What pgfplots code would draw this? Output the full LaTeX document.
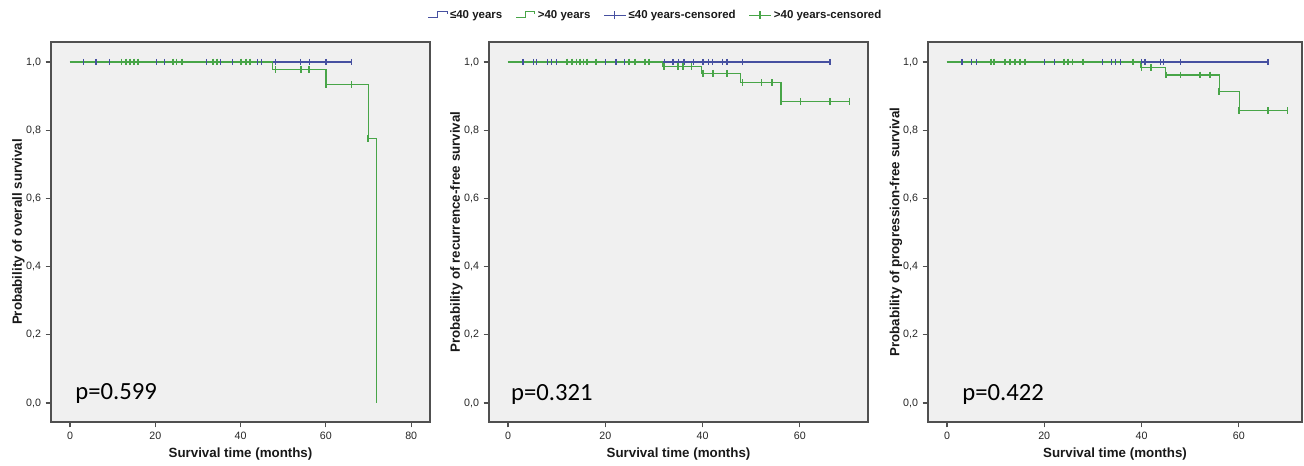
\documentclass[border=0pt]{standalone}
\usepackage{pgfplots}
\pgfplotsset{compat=1.18}
\usepackage{fontspec}
\setmainfont{Liberation Sans}
\newfontfamily\pfont{Carlito}
\definecolor{kmblue}{RGB}{70,80,160}
\definecolor{kmgreen}{RGB}{72,165,72}
\definecolor{bgc}{RGB}{240,240,240}
\definecolor{framec}{RGB}{80,80,80}

\pgfplotsset{
  kmaxis/.style={
    scale only axis, height=285pt,
    ymin=-0.0557, ymax=1.0587,
    ytick={0,0.2,0.4,0.6,0.8,1},
    axis background/.style={fill=bgc},
    axis line style={framec, line width=1.1pt},
    tick style={framec, line width=0.8pt},
    tick align=outside, tick pos=left, major tick length=4pt,
    ticklabel style={font=\fontsize{8}{9}\selectfont, text=black!85},
    /pgf/number format/assume math mode=true,
    y tick label style={/pgf/number format/.cd, fixed, fixed zerofill, precision=1, use comma, /tikz/.cd},
    x tick label style={/pgf/number format/.cd, fixed, precision=0, /tikz/.cd},
    xlabel={Survival time (months)},
    label style={font=\bfseries\fontsize{10}{12}\selectfont, text=black!90},
    xlabel style={at={(axis description cs:0.5,0)}, anchor=center, yshift=-24pt},
    ylabel style={at={(axis description cs:-0.086,0.5)}, anchor=center},
  },
  bline/.style={const plot, no markers, kmblue, line width=0.8pt,
    legend image code/.code={\draw[kmblue, line width=0.6pt] (0pt,-2pt) -- (7pt,-2pt) -- (7pt,2.5pt) -- (14pt,2.5pt) -- (14pt,0.5pt);}},
  gline/.style={const plot, no markers, kmgreen, line width=0.95pt,
    legend image code/.code={\draw[kmgreen, line width=0.75pt] (0pt,-2pt) -- (7pt,-2pt) -- (7pt,2.5pt) -- (14pt,2.5pt) -- (14pt,0.5pt);}},
  bmark/.style={only marks, mark=|, mark size=2.4pt, kmblue, mark options={line width=0.9pt},
    legend image code/.code={\draw[kmblue, line width=0.6pt] (0pt,0pt) -- (16pt,0pt); \draw[kmblue, line width=0.8pt] (8pt,-3pt) -- (8pt,3pt);}},
  gmark/.style={only marks, mark=|, mark size=2.5pt, kmgreen, mark options={line width=1.3pt},
    legend image code/.code={\draw[kmgreen, line width=0.75pt] (0pt,0pt) -- (16pt,0pt); \draw[kmgreen, line width=1pt] (8pt,-3pt) -- (8pt,3pt);}},
}

\begin{document}
\begin{tikzpicture}
\useasboundingbox (0pt,0pt) rectangle (978pt,349.5pt);

% ---------------- Panel 1: overall survival ----------------
\begin{axis}[kmaxis, at={(38.25pt,33pt)}, anchor=south west, width=284.25pt,
  xmin=-4.45, xmax=84.4, xtick={0,20,40,60,80},
  ylabel={Probability of overall survival}]
\addplot[bline] coordinates {(0,1) (66,1)};
\addplot[gline] coordinates {(0,1) (47.5,0.978) (60,0.934) (69.9,0.775) (71.9,0)};
\addplot[bmark] coordinates {(3.1,1) (6.1,1) (9.2,1) (20.2,1) (22.1,1) (32.0,1) (35.3,1) (38.1,1) (43.9,1) (44.9,1) (48.2,1) (54.1,1) (56.1,1) (60.0,1) (66.0,1)};
\addplot[gmark] coordinates {(12.1,1) (13.1,1) (14.1,1) (15.0,1) (16.0,1) (24.1,1) (25.0,1) (26.2,1) (33.6,1) (34.4,1) (40.1,1) (41.3,1) (42.2,1)
  (48.2,0.978) (54.1,0.978) (56.1,0.978) (60.0,0.934) (66.0,0.934) (69.9,0.775)};
\node[font=\pfont\fontsize{18.5}{20}\selectfont, anchor=base west, inner sep=0pt] at (axis cs:1.2,0.009) {p=0.599};
\end{axis}

% ---------------- Panel 2: recurrence-free survival ----------------
\begin{axis}[kmaxis, at={(366.75pt,33pt)}, anchor=south west, width=284.25pt,
  xmin=-3.9, xmax=74.0, xtick={0,20,40,60},
  ylabel={Probability of recurrence-free survival},
  legend style={at={(0.4406,1.071)}, anchor=center, draw=none, fill=none,
    font=\bfseries\fontsize{8.6}{10}\selectfont, text=black!90,
    /tikz/every even column/.append style={column sep=8pt}},
  legend columns=4]
\addplot[bline] coordinates {(0,1) (66.2,1)};
\addlegendentry{≤40 years}
\addplot[gline] coordinates {(0,1) (31.8,0.987) (39.8,0.967) (47.8,0.94) (56.1,0.885) (70.2,0.885)};
\addlegendentry{>40 years}
\addplot[bmark] coordinates {(3.1,1) (5.2,1) (5.9,1) (8.1,1) (9.0,1) (10.0,1) (20.1,1) (22.2,1) (24.0,1) (32.1,1) (33.9,1) (35.0,1) (36.2,1) (38.1,1) (40.1,1) (41.2,1) (42.1,1) (44.1,1) (45.0,1) (48.2,1) (66.2,1)};
\addlegendentry{≤40 years-censored}
\addplot[gmark] coordinates {(12.2,1) (13.1,1) (14.1,1) (14.8,1) (15.5,1) (16.2,1) (18.1,1) (24.9,1) (26.1,1) (28.2,1) (29.0,1)
  (32.1,0.987) (35.0,0.987) (35.9,0.987) (37.7,0.987) (40.1,0.967) (42.1,0.967) (45.0,0.967) (48.2,0.94) (52.1,0.94) (54.2,0.94)
  (56.1,0.885) (60.1,0.885) (66.2,0.885) (70.2,0.885)};
\addlegendentry{>40 years-censored}
\node[font=\pfont\fontsize{18.5}{20}\selectfont, anchor=base west, inner sep=0pt] at (axis cs:0.6,0.007) {p=0.321};
\end{axis}

% ---------------- Panel 3: progression-free survival ----------------
\begin{axis}[kmaxis, at={(696pt,33pt)}, anchor=south west, width=280.5pt,
  xmin=-3.9, xmax=73.0, xtick={0,20,40,60},
  ylabel={Probability of progression-free survival}]
\addplot[bline] coordinates {(0,1) (66.0,1)};
\addplot[gline] coordinates {(0,1) (39.8,0.983) (45.0,0.962) (56.0,0.913) (60.1,0.857) (70.0,0.857)};
\addplot[bmark] coordinates {(3.1,1) (5.1,1) (6.0,1) (20.0,1) (22.1,1) (32.0,1) (33.9,1) (34.7,1) (35.6,1) (40.0,1) (40.7,1) (43.9,1) (44.5,1) (48.0,1) (66.0,1)};
\addplot[gmark] coordinates {(9.0,1) (9.7,1) (11.9,1) (12.9,1) (14.0,1) (15.0,1) (16.0,1) (24.0,1) (24.9,1) (25.8,1) (28.0,1) (38.2,1)
  (40.0,0.983) (41.9,0.983) (45.0,0.962) (48.0,0.962) (52.1,0.962) (54.1,0.962) (56.0,0.913) (60.1,0.857) (66.0,0.857) (70.0,0.857)};
\node[font=\pfont\fontsize{18.5}{20}\selectfont, anchor=base west, inner sep=0pt] at (axis cs:3.1,0.007) {p=0.422};
\end{axis}
\end{tikzpicture}
\end{document}
